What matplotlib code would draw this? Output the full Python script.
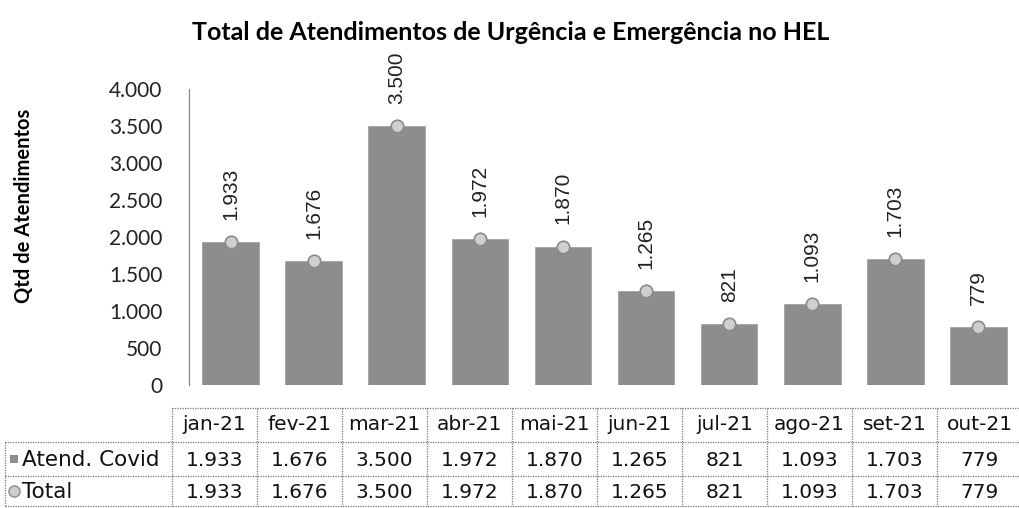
import matplotlib
matplotlib.use("Agg")
import matplotlib.pyplot as plt
from matplotlib.lines import Line2D
from matplotlib.patches import Rectangle

categories = ["jan-21", "fev-21", "mar-21", "abr-21", "mai-21", "jun-21",
              "jul-21", "ago-21", "set-21", "out-21"]
covid = [1933, 1676, 3500, 1972, 1870, 1265, 821, 1093, 1703, 779]
total = [1933, 1676, 3500, 1972, 1870, 1265, 821, 1093, 1703, 779]
yticks = [0, 500, 1000, 1500, 2000, 2500, 3000, 3500, 4000]
series_names = ["Atend. Covid", "Total"]


def fmt(v):
    return f"{v:,}".replace(",", ".")


W, H = 1020, 508
fig = plt.figure(figsize=(W / 100, H / 100), dpi=100)


def fx(px):
    return px / W


def fy(py):
    return 1 - py / H


bar_color = "#8d8d8d"
ax = fig.add_axes([fx(189), fy(385), fx(1020) - fx(189), fy(89) - fy(385)])
x = list(range(len(categories)))
ax.bar(x, covid, width=0.68, color=bar_color, edgecolor="#9a9a9a", linewidth=0.5, zorder=2)
ax.plot(x, total, linestyle="none", marker="o", markersize=9,
        markerfacecolor="#cfcfcf", markeredgecolor="#8a8a8a", markeredgewidth=1.2, zorder=3)
for xi, v in zip(x, total):
    ax.annotate(fmt(v), (xi, v), xytext=(0, 16), textcoords="offset points",
                rotation=90, ha="center", va="bottom", fontsize=15,
                family="Liberation Sans", color="#222222")
ax.set_xlim(-0.5, len(categories) - 0.5)
ax.set_ylim(0, 4000)
ax.set_yticks(yticks)
ax.set_yticklabels([fmt(t) for t in yticks])
ax.tick_params(axis="y", length=0, pad=19, labelsize=15, labelcolor="#222222",
               labelfontfamily="Lato")
ax.set_xticks([])
for s in ["top", "right", "bottom"]:
    ax.spines[s].set_visible(False)
ax.spines["left"].set_linestyle((0, (1, 1)))
ax.spines["left"].set_color("#888888")
ax.spines["left"].set_linewidth(0.9)
ax.patch.set_alpha(0)

fig.text(fx(511), fy(32), "Total de Atendimentos de Urgência e Emergência no HEL",
         ha="center", va="center", fontsize=18, fontweight="bold", family="Lato")
fig.text(fx(24), fy(206), "Qtd de Atendimentos", rotation=90, ha="center", va="center",
         fontsize=14.5, fontweight="bold", family="Lato")

# data table
col0, colw = 172, 85
rows_y = [408, 442, 476, 506]
left_edge = 5
right_edge = col0 + colw * len(categories)
lkw = dict(color="#777777", linewidth=0.9, linestyle=(0, (1, 1)), transform=fig.transFigure)
fig.add_artist(Line2D([fx(col0), fx(right_edge)], [fy(rows_y[0])] * 2, **lkw))
for ry in rows_y[1:]:
    fig.add_artist(Line2D([fx(left_edge), fx(right_edge)], [fy(ry)] * 2, **lkw))
fig.add_artist(Line2D([fx(left_edge)] * 2, [fy(rows_y[1]), fy(rows_y[3])], **lkw))
for i in range(len(categories) + 1):
    cx = col0 + colw * i
    fig.add_artist(Line2D([fx(cx)] * 2, [fy(rows_y[0]), fy(rows_y[3])], **lkw))

tkw = dict(ha="center", va="center", fontsize=14.5, family="DejaVu Sans", color="#111111")
for i, c in enumerate(categories):
    cx = col0 + colw * (i + 0.5)
    fig.text(fx(cx), fy((rows_y[0] + rows_y[1]) / 2), c, **tkw)
    fig.text(fx(cx), fy((rows_y[1] + rows_y[2]) / 2 + 1), fmt(covid[i]), **tkw)
    fig.text(fx(cx), fy((rows_y[2] + rows_y[3]) / 2 + 1), fmt(total[i]), **tkw)

r1 = (rows_y[1] + rows_y[2]) / 2
r2 = (rows_y[2] + rows_y[3]) / 2
fig.add_artist(Rectangle((fx(10), fy(r1 + 4)), fx(8), fy(r1 - 4) - fy(r1 + 4),
                         facecolor=bar_color, edgecolor="none", transform=fig.transFigure))
fig.add_artist(Line2D([fx(14)], [fy(r2)], marker="o", markersize=8,
                      markerfacecolor="#cfcfcf", markeredgecolor="#8a8a8a",
                      markeredgewidth=1.0, transform=fig.transFigure))
fig.text(fx(22), fy(r1 + 1), series_names[0], ha="left", va="center", fontsize=15.5,
         family="DejaVu Sans", color="#111111")
fig.text(fx(22), fy(r2 + 1), series_names[1], ha="left", va="center", fontsize=15.5,
         family="DejaVu Sans", color="#111111")

fig.savefig("out.png", dpi=100)
